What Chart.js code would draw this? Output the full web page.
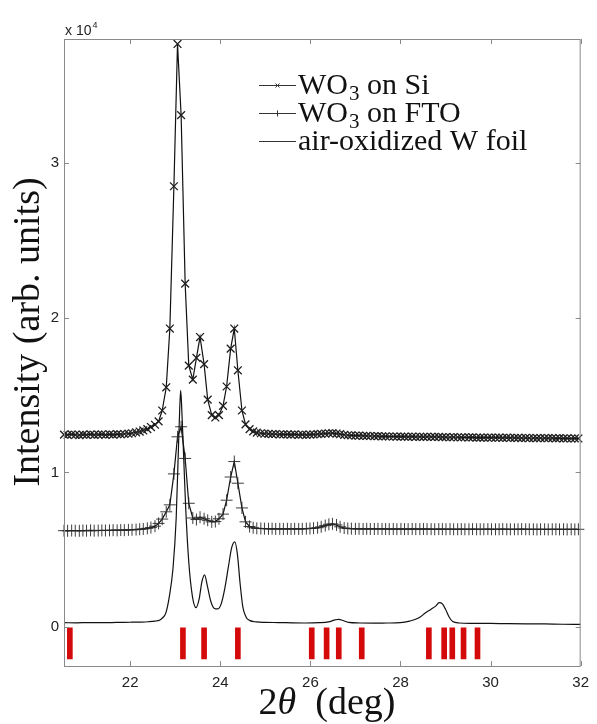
<!DOCTYPE html>
<html>
<head>
<meta charset="utf-8">
<title>XRD patterns of WO3</title>
<script src="https://cdn.jsdelivr.net/npm/chart.js@4.4.1/dist/chart.umd.min.js"></script>
<style>
  html, body { margin: 0; padding: 0; background: #fff; }
  #wrap { width: 597px; height: 724px; }
</style>
</head>
<body>
<div id="wrap"><canvas id="xrd" width="597" height="724"></canvas></div>
<script>
// ---- Data ----
// shared 2θ grid of the two thin-film scans (deg)
const twoTheta = [
  20.53, 20.61, 20.70, 20.78, 20.87, 20.95, 21.03, 21.12, 21.20, 21.29,
  21.37, 21.45, 21.54, 21.62, 21.71, 21.79, 21.87, 21.96, 22.04, 22.13,
  22.21, 22.29, 22.38, 22.46, 22.55, 22.63, 22.71, 22.80, 22.88, 22.97,
  23.05, 23.13, 23.22, 23.30, 23.39, 23.47, 23.55, 23.64, 23.72, 23.81,
  23.89, 23.97, 24.06, 24.14, 24.23, 24.31, 24.39, 24.48, 24.56, 24.65,
  24.73, 24.81, 24.90, 24.98, 25.07, 25.15, 25.23, 25.32, 25.40, 25.49,
  25.57, 25.65, 25.74, 25.82, 25.91, 25.99, 26.07, 26.16, 26.24, 26.33,
  26.41, 26.49, 26.58, 26.66, 26.75, 26.83, 26.91, 27.00, 27.08, 27.17,
  27.25, 27.33, 27.42, 27.50, 27.59, 27.67, 27.75, 27.84, 27.92, 28.01,
  28.09, 28.17, 28.26, 28.34, 28.43, 28.51, 28.59, 28.68, 28.76, 28.85,
  28.93, 29.01, 29.10, 29.18, 29.27, 29.35, 29.43, 29.52, 29.60, 29.69,
  29.77, 29.85, 29.94, 30.02, 30.11, 30.19, 30.27, 30.36, 30.44, 30.53,
  30.61, 30.69, 30.78, 30.86, 30.95, 31.03, 31.11, 31.20, 31.28, 31.37,
  31.45, 31.53, 31.62, 31.70, 31.79, 31.87, 31.95
];

const siIntensity = [
  12440, 12420, 12450, 12430, 12410, 12440, 12430, 12450, 12420, 12440,
  12450, 12430, 12460, 12440, 12470, 12460, 12480, 12500, 12530, 12580,
  12640, 12710, 12800, 12930, 13080, 13300, 14000, 15500, 19300, 28500,
  37700, 33100, 22200, 16900, 16000, 17400, 18750, 17000, 14700, 13700,
  13550, 13700, 14300, 15550, 18000, 19300, 16600, 14000, 13100, 12800,
  12650, 12570, 12530, 12500, 12490, 12470, 12480, 12460, 12450, 12460,
  12440, 12450, 12430, 12440, 12430, 12440, 12450, 12470, 12490, 12510,
  12530, 12540, 12510, 12470, 12430, 12400, 12390, 12380, 12370, 12360,
  12360, 12350, 12340, 12340, 12330, 12330, 12320, 12320, 12310, 12310,
  12310, 12300, 12310, 12300, 12300, 12290, 12300, 12290, 12290, 12290,
  12280, 12280, 12270, 12280, 12270, 12260, 12270, 12260, 12260, 12250,
  12250, 12250, 12240, 12250, 12240, 12240, 12230, 12240, 12230, 12230,
  12230, 12220, 12230, 12220, 12220, 12210, 12220, 12210, 12210, 12210,
  12200, 12210, 12200, 12200, 12190, 12200, 12190
];

const ftoIntensity = [
  6230, 6220, 6240, 6230, 6220, 6240, 6230, 6250, 6230, 6240,
  6250, 6240, 6250, 6260, 6250, 6270, 6260, 6280, 6290, 6300,
  6320, 6340, 6380, 6430, 6520, 6700, 6980, 7450, 7900, 9900,
  12300, 12950, 10900, 8000, 7050, 6950, 7100, 7000, 6900, 6800,
  6820, 7000, 7300, 8200, 9700, 10700, 9300, 7700, 6800, 6500,
  6420, 6380, 6370, 6360, 6350, 6360, 6340, 6350, 6340, 6350,
  6340, 6350, 6340, 6350, 6360, 6370, 6390, 6420, 6480, 6560,
  6640, 6670, 6600, 6480, 6400, 6370, 6360, 6350, 6350, 6340,
  6350, 6340, 6340, 6350, 6340, 6340, 6330, 6340, 6330, 6340,
  6330, 6330, 6340, 6330, 6330, 6340, 6330, 6330, 6320, 6330,
  6330, 6320, 6330, 6320, 6320, 6330, 6320, 6320, 6330, 6320,
  6320, 6320, 6330, 6320, 6320, 6320, 6330, 6320, 6320, 6320,
  6320, 6330, 6320, 6320, 6320, 6310, 6320, 6320, 6310, 6320,
  6320, 6310, 6320, 6310, 6320, 6310, 6320
];

// the foil scan has no markers, read at its own (uneven) points
const foilTheta = [
  20.53, 20.8, 21.1, 21.4, 21.7, 22.0, 22.2, 22.4, 22.55, 22.66,
  22.72, 22.79, 22.87, 22.95, 23.02, 23.07, 23.10, 23.12, 23.14, 23.18,
  23.23, 23.30, 23.38, 23.46, 23.53, 23.59, 23.65, 23.71, 23.79, 23.87,
  23.94, 24.02, 24.10, 24.18, 24.25, 24.32, 24.38, 24.44, 24.50, 24.57,
  24.65, 24.8, 25.0, 25.3, 25.6, 25.9, 26.2, 26.4, 26.55, 26.63,
  26.72, 26.85, 27.1, 27.4, 27.7, 28.0, 28.2, 28.4, 28.55, 28.68,
  28.78, 28.86, 28.93, 29.0, 29.08, 29.16, 29.3, 29.6, 30.0, 30.4,
  30.8, 31.2, 31.6, 32.0
];
const foilIntensity = [
  280, 270, 290, 280, 300, 310, 320, 340, 380, 460,
  600, 900, 2000, 3800, 7000, 11500, 14200, 15300, 14400, 11500,
  7800, 4200, 2000, 1250, 1800, 2900, 3370, 2700, 1650, 1200,
  1170, 1500, 2500, 3900, 5100, 5500, 4700, 2800, 1300, 650,
  430, 330, 300, 290, 270, 260, 280, 330, 460, 500,
  420, 300, 260, 250, 260, 280, 380, 580, 900, 1150,
  1350, 1580, 1500, 1150, 650, 350, 260, 240, 230, 220,
  210, 200, 180, 170
];

// reference line positions (red sticks below zero)
const refPeaks = [20.66, 23.17, 23.64, 24.39, 26.03, 26.36, 26.63, 27.14, 28.63, 28.97, 29.15, 29.40, 29.71];
const refStickSpan = [-2070, -50];

const xTickValues = [22, 24, 26, 28, 30, 32];
const yTickValues = [0, 10000, 20000, 30000];
const legendRows = [
  { parts: ['WO', '3', ' on Si'], marker: 'x' },
  { parts: ['WO', '3', ' on FTO'], marker: '+' },
  { parts: ['air-oxidized W foil', '', ''], marker: null }
];

// ---- Helpers ----
const serif = '"Liberation Serif", "Times New Roman", serif';
const sans = '"Liberation Sans", Arial, sans-serif';
const pts = (xs, ys) => xs.map((x, i) => ({ x, y: ys[i] }));

function marker(ctx, kind, cx, cy, r) {
  ctx.beginPath();
  if (kind === 'x') {
    ctx.moveTo(cx - r, cy - r); ctx.lineTo(cx + r, cy + r);
    ctx.moveTo(cx - r, cy + r); ctx.lineTo(cx + r, cy - r);
  } else {
    ctx.moveTo(cx - r, cy); ctx.lineTo(cx + r, cy);
    ctx.moveTo(cx, cy - r); ctx.lineTo(cx, cy + r);
  }
  ctx.stroke();
}

// ---- Frame, inward ticks, titles and legend (MATLAB look) ----
const decor = {
  id: 'decor',
  afterDraw(chart) {
    const { ctx, chartArea: a, scales: { x, y } } = chart;
    ctx.save();

    ctx.strokeStyle = '#8a8a8a';
    ctx.lineWidth = 1;
    ctx.strokeRect(a.left + 0.5, a.top + 0.5, a.right - a.left - 1, a.bottom - a.top);

    ctx.beginPath();
    xTickValues.forEach(v => {
      const px = Math.round(x.getPixelForValue(v)) + 0.5;
      ctx.moveTo(px, a.bottom); ctx.lineTo(px, a.bottom - 5);
      ctx.moveTo(px, a.top); ctx.lineTo(px, a.top + 5);
    });
    yTickValues.forEach(v => {
      const py = Math.round(y.getPixelForValue(v)) + 0.5;
      ctx.moveTo(a.left, py); ctx.lineTo(a.left + 5, py);
      ctx.moveTo(a.right, py); ctx.lineTo(a.right - 5, py);
    });
    ctx.stroke();

    // exponent note
    ctx.fillStyle = '#222';
    ctx.textBaseline = 'alphabetic';
    ctx.textAlign = 'left';
    ctx.font = '14px ' + sans;
    ctx.fillText('x 10', a.left + 1, 35);
    const w10 = ctx.measureText('x 10').width;
    ctx.font = '9px ' + sans;
    ctx.fillText('4', a.left + 2 + w10, 28);

    // x title: 2θ (deg)
    ctx.fillStyle = '#111';
    const fs = 38;
    const segs = [['2', 'normal'], ['θ', 'italic'], ['  (deg)', 'normal']];
    let total = 0;
    segs.forEach(s => { ctx.font = s[1] + ' ' + fs + 'px ' + serif; total += ctx.measureText(s[0]).width; });
    let tx = 327 - total / 2;
    segs.forEach(s => {
      ctx.font = s[1] + ' ' + fs + 'px ' + serif;
      ctx.fillText(s[0], tx, 714);
      tx += ctx.measureText(s[0]).width;
    });

    // y title
    ctx.save();
    ctx.translate(39, 332);
    ctx.rotate(-Math.PI / 2);
    ctx.textAlign = 'center';
    ctx.font = fs + 'px ' + serif;
    ctx.fillText('Intensity (arb. units)', 0, 0);
    ctx.restore();

    // legend
    legendRows.forEach((row, i) => {
      const base = 94 + i * 28;
      const ly = base - 8.5;
      ctx.strokeStyle = '#333';
      ctx.lineWidth = 1;
      ctx.beginPath(); ctx.moveTo(259, ly); ctx.lineTo(296, ly); ctx.stroke();
      if (row.marker) marker(ctx, row.marker, 277.5, ly, row.marker === 'x' ? 2 : 3);
      let px = 298;
      ctx.font = '30px ' + serif;
      ctx.fillText(row.parts[0], px, base);
      px += ctx.measureText(row.parts[0]).width;
      if (row.parts[1]) {
        ctx.font = '21px ' + serif;
        ctx.fillText(row.parts[1], px + 1, base + 6);
        px += ctx.measureText(row.parts[1]).width + 1;
      }
      ctx.font = '30px ' + serif;
      ctx.fillText(row.parts[2], px, base);
    });

    ctx.restore();
  }
};

// ---- Chart ----
new Chart(document.getElementById('xrd'), {
  type: 'line',
  data: {
    datasets: [
      {
        label: 'air-oxidized W foil',
        data: pts(foilTheta, foilIntensity),
        borderColor: '#111',
        borderWidth: 1.2,
        pointRadius: 0,
        cubicInterpolationMode: 'monotone'
      },
      {
        label: 'WO₃ on FTO',
        data: pts(twoTheta, ftoIntensity),
        borderColor: '#111',
        borderWidth: 1.2,
        pointStyle: 'cross',
        pointRadius: 6,
        pointBorderColor: 'rgba(40,40,40,0.9)',
        pointBorderWidth: 1,
        clip: false
      },
      {
        label: 'WO₃ on Si',
        data: pts(twoTheta, siIntensity),
        borderColor: '#111',
        borderWidth: 1.2,
        pointStyle: 'crossRot',
        pointRadius: 5.5,
        pointBorderColor: '#1e1e1e',
        pointBorderWidth: 1.3,
        clip: false
      },
      {
        type: 'bar',
        label: 'reference',
        data: refPeaks.map(x => ({ x, y: refStickSpan })),
        backgroundColor: '#d40a0a',
        barThickness: 5
      }
    ]
  },
  options: {
    responsive: false,
    animation: false,
    devicePixelRatio: 1,
    events: [],
    layout: { padding: { top: 39, right: 14, left: 0, bottom: 0 } },
    plugins: { legend: { display: false }, tooltip: { enabled: false } },
    scales: {
      x: {
        type: 'linear',
        min: 20.53,
        max: 32,
        offset: false,
        grid: { display: false, drawTicks: false, offset: false },
        border: { display: false },
        afterBuildTicks: s => { s.ticks = xTickValues.map(v => ({ value: v })); },
        afterFit: s => { s.height = 58; },
        ticks: { padding: 8, color: '#222', maxRotation: 0, autoSkip: false, font: { family: sans, size: 15 } }
      },
      y: {
        type: 'linear',
        min: -2520,
        max: 38020,
        grid: { display: false, drawTicks: false },
        border: { display: false },
        afterBuildTicks: s => { s.ticks = yTickValues.map(v => ({ value: v })); },
        afterFit: s => { s.width = 64; },
        ticks: { padding: 5, color: '#222', font: { family: sans, size: 15 }, callback: v => v / 10000 }
      }
    }
  },
  plugins: [decor]
});
</script>
</body>
</html>
